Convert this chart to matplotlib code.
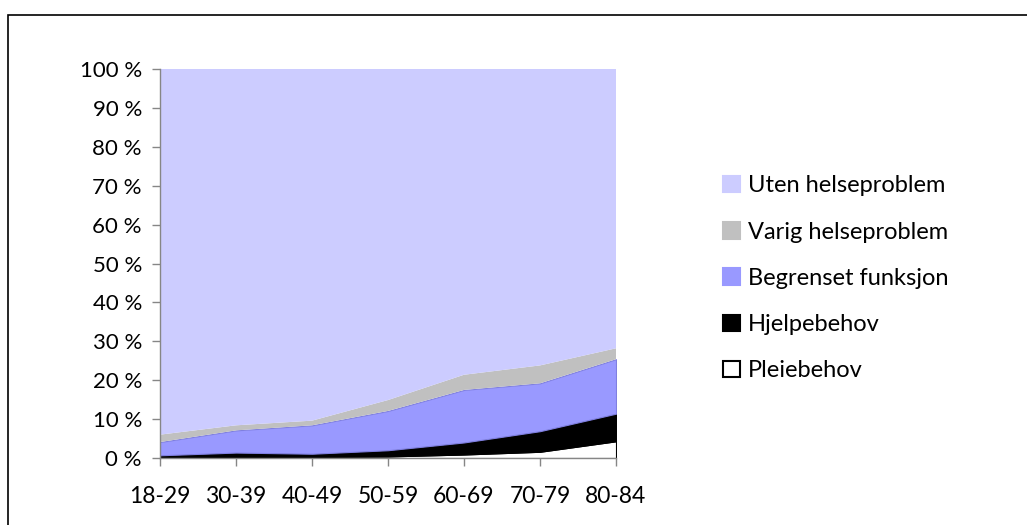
import matplotlib
matplotlib.use("Agg")
import matplotlib.pyplot as plt
from matplotlib.patches import Patch, Rectangle
import numpy as np

# age groups and share (%) in each health category
ages = ["18-29", "30-39", "40-49", "50-59", "60-69", "70-79", "80-84"]
pleie = [0.2, 0.3, 0.3, 0.4, 0.9, 1.6, 4.3]
hjelp = [0.5, 1.1, 0.8, 1.6, 3.1, 5.3, 7.1]
begrenset = [3.4, 5.7, 7.3, 10.1, 13.5, 12.3, 14.0]
varig = [1.9, 1.3, 1.2, 2.8, 3.9, 4.6, 2.8]
uten = [94.0, 91.6, 90.4, 85.1, 78.6, 76.2, 71.8]

labels = ["Pleiebehov", "Hjelpebehov", "Begrenset funksjon",
          "Varig helseproblem", "Uten helseproblem"]
colors = ["#ffffff", "#000000", "#9999ff", "#c0c0c0", "#ccccff"]
edges = ["#000000", "#000000", "#7f7fe0", "none", "none"]

plt.rcParams['font.family'] = ['Lato', 'DejaVu Sans']

fig = plt.figure(figsize=(10.27, 5.25), dpi=100)
W, H = 1027, 525
ax = fig.add_axes([160 / W, (H - 458) / H, (616 - 160) / W, (458 - 69) / H])

x = np.arange(len(ages))
polys = ax.stackplot(x, pleie, hjelp, begrenset, varig, uten, colors=colors)
for p, ec in zip(polys, edges):
    p.set_edgecolor(ec)
    p.set_linewidth(0.8 if ec != "none" else 0)

ax.set_xlim(0, len(ages) - 1)
ax.set_ylim(0, 100)
ax.set_xticks(x)
ax.set_xticklabels(ages, fontsize=16.5)
ax.set_yticks(np.arange(0, 101, 10))
ax.set_yticklabels(["%d %%" % v for v in range(0, 101, 10)], fontsize=16)

for s in ["top", "right"]:
    ax.spines[s].set_visible(False)
for s in ["left", "bottom"]:
    ax.spines[s].set_color("#868686")
    ax.spines[s].set_linewidth(1.0)
ax.tick_params(axis="both", colors="#868686", labelcolor="black",
               length=6, width=1.0)
ax.tick_params(axis="x", pad=14)
ax.tick_params(axis="y", pad=7)

# legend, top entry first
handles = [Patch(facecolor=c, edgecolor=(e if c == "#ffffff" else c),
                 linewidth=1.5) for c, e in zip(colors, edges)]
fig.legend(handles[::-1], labels[::-1], loc="upper left",
           bbox_to_anchor=(702 / W, 1 - 154 / H), frameon=False,
           fontsize=17, handlelength=0.7, handleheight=0.7,
           handletextpad=0.35, labelspacing=1.07)

# outer chart frame (only top/left visible in the crop)
fig.patches.append(Rectangle((8 / W, -0.1), 1.2, 1 - 15 / H + 0.1,
                             transform=fig.transFigure, fill=False,
                             edgecolor="black", linewidth=1.2))

fig.savefig("out.png", dpi=100)
